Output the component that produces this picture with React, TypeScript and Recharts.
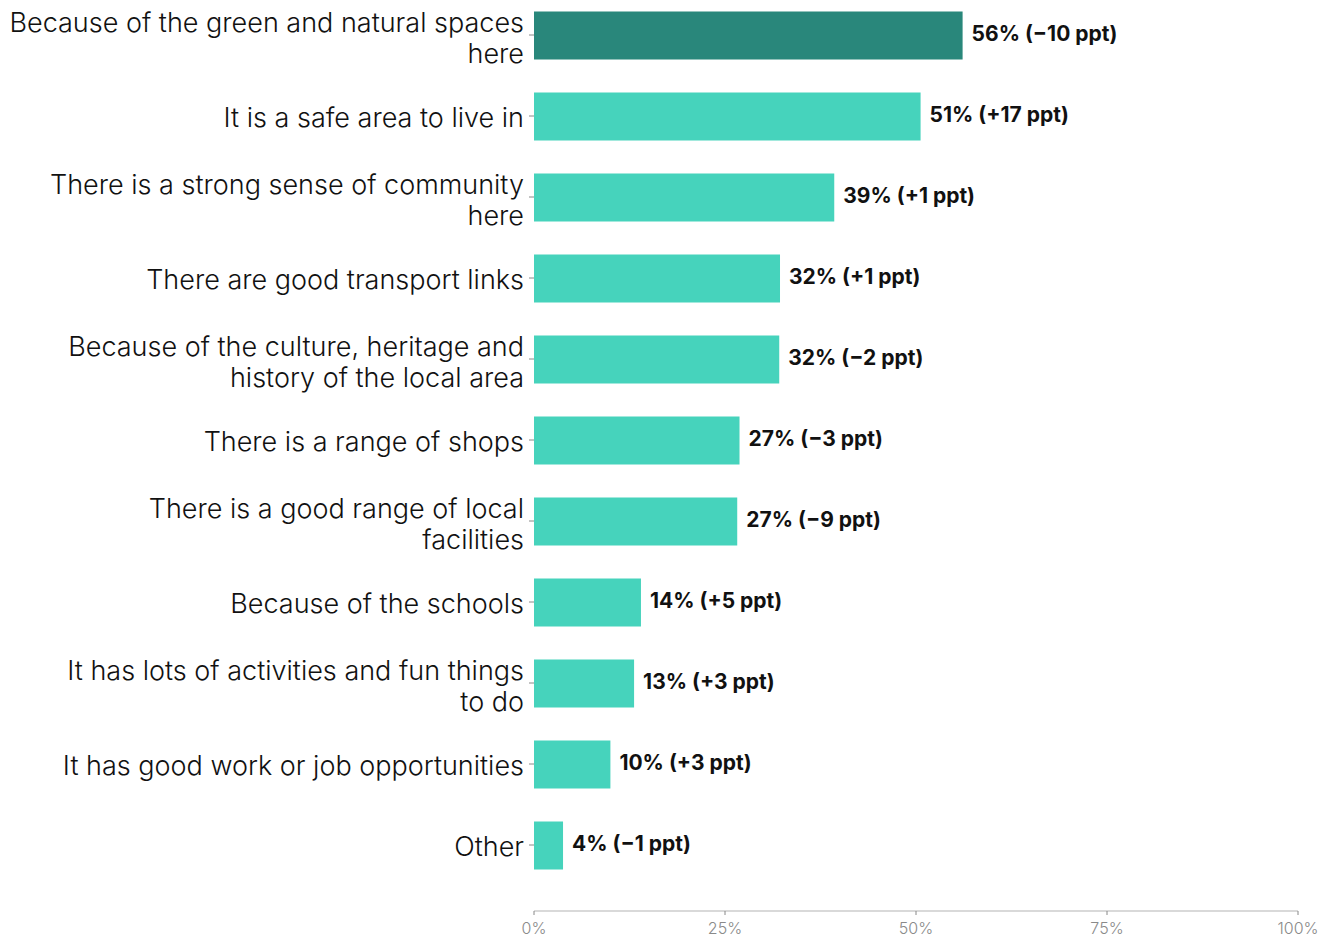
import { BarChart, Bar, XAxis, YAxis, Cell, LabelList } from "recharts"

const reasons = [
  "Because of the green and natural spaces here",
  "It is a safe area to live in",
  "There is a strong sense of community here",
  "There are good transport links",
  "Because of the culture, heritage and history of the local area",
  "There is a range of shops",
  "There is a good range of local facilities",
  "Because of the schools",
  "It has lots of activities and fun things to do",
  "It has good work or job opportunities",
  "Other",
]
const shares = [56.1, 50.6, 39.3, 32.2, 32.1, 26.9, 26.6, 14.0, 13.1, 10.0, 3.8]
const changes = [-10, 17, 1, 1, -2, -3, -9, 5, 3, 3, -1]
const xTicks = [0, 25, 50, 75, 100]

const HIGHLIGHT = "#29877b"
const BASE = "#46d3bc"

// break a label into lines of at most ~40 characters, like str_wrap
function wrap(text: string, width = 40): string[] {
  const words = text.split(" ")
  const lines: string[] = []
  let cur = ""
  for (const w of words) {
    if (cur && (cur + " " + w).length > width) {
      lines.push(cur)
      cur = w
    } else {
      cur = cur ? cur + " " + w : w
    }
  }
  if (cur) lines.push(cur)
  return lines
}

const data = reasons.map((name, i) => {
  const c = changes[i]
  const sign = c > 0 ? "+" : "\u2212"
  return {
    name,
    value: shares[i],
    label: `${Math.round(shares[i])}% (${sign}${Math.abs(c)} ppt)`,
  }
})

function CategoryTick(props: any) {
  const { x, y, payload } = props
  const lines = wrap(payload.value)
  const lh = 31
  const start = -((lines.length - 1) * lh) / 2 + (lines.length > 1 ? 2.5 : 1)
  return (
    <text
      x={x}
      y={y}
      textAnchor="end"
      fill="#111"
      fontSize={27}
      fontWeight={300}
      fontFamily="Inter"
    >
      {lines.map((l, i) => (
        <tspan key={i} x={x} y={y + start + i * lh} dy="0.36em">
          {l}
        </tspan>
      ))}
    </text>
  )
}

export default function App() {
  return (
    <div style={{ position: "absolute", left: 0, top: -20, width: 1334, height: 957 }}>
      <BarChart
        width={1334}
        height={957}
        data={data}
        layout="vertical"
        margin={{ top: 14.5, right: 36, left: 0, bottom: 0 }}
      >
        <XAxis
          type="number"
          domain={[0, 100]}
          ticks={xTicks}
          tickFormatter={(v) => `${v}%`}
          axisLine={{ stroke: "#cccccc", strokeWidth: 1.5 }}
          tickLine={{ stroke: "#888888" }}
          tickSize={4}
          tickMargin={8}
          height={26}
          tick={{ fontSize: 16, fill: "#8a8a8a", fontFamily: "Inter", fontWeight: 300 }}
        />
        <YAxis
          type="category"
          dataKey="name"
          width={534}
          axisLine={false}
          tickLine={{ stroke: "#888888" }}
          tickSize={5}
          tickMargin={5}
          padding={{ top: 0, bottom: 25.5 }}
          interval={0}
          tick={<CategoryTick />}
        />
        <Bar dataKey="value" barSize={48} isAnimationActive={false}>
          {data.map((d, i) => (
            <Cell key={d.name} fill={i === 0 ? HIGHLIGHT : BASE} />
          ))}
          <LabelList
            dataKey="label"
            position="right"
            offset={9}
            fill="#111"
            fontSize={21}
            fontWeight={700}
            fontFamily="Inter"
            dy={-2}
          />
        </Bar>
      </BarChart>
    </div>
  )
}
